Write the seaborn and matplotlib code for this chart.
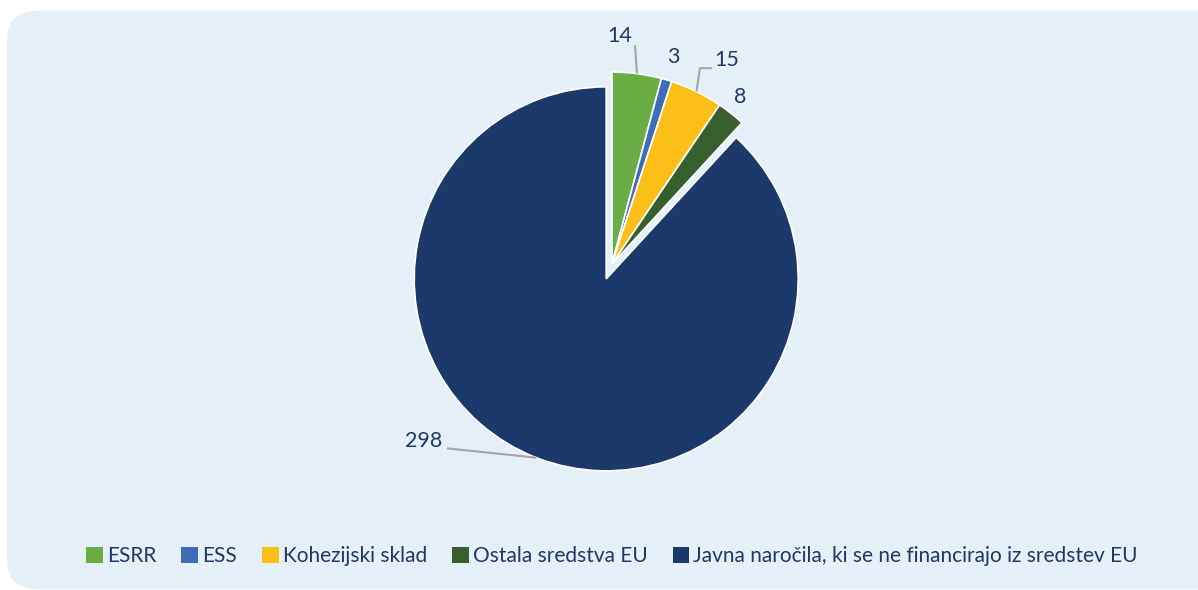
import matplotlib
matplotlib.use("Agg")
import matplotlib.pyplot as plt
from matplotlib.patches import FancyBboxPatch
import seaborn as sns
import numpy as np

# data
categories = ["ESRR", "ESS", "Kohezijski sklad", "Ostala sredstva EU",
              "Javna naročila, ki se ne financirajo iz sredstev EU"]
values = [14, 3, 15, 8, 298]
colors = ["#6AAD45", "#3D6DB9", "#FCBF17", "#375F2D", "#1C396C"]
explode = [0, 0, 0, 0, 0.083]

# label layout (data units, pie radius = 1)
label_pos = [(0.04, 1.19), (0.32, 1.08), (0.60, 1.06), (0.67, 0.87), (-0.98, -0.92)]
# leader line bends after leaving the wedge (None = no leader)
leader_pts = [[(0.12, 1.14)], None, [(0.458, 1.02), (0.52, 1.02)], None, [(-0.86, -0.96)]]

sns.set_theme(style="white")
plt.rcParams["font.family"] = ["Lato", "DejaVu Sans"]
text_color = "#1F3864"

W, H = 1198, 590
fig = plt.figure(figsize=(W / 100, H / 100), dpi=100)
fig.patch.set_facecolor("white")

# rounded light-blue background drawn in pixel units
bg_ax = fig.add_axes([0, 0, 1, 1], zorder=-1)
bg_ax.set_xlim(0, W)
bg_ax.set_ylim(0, H)
bg_ax.axis("off")
bg_ax.add_patch(FancyBboxPatch((7, 1), W + 30, H - 12,
                               boxstyle="round,pad=0,rounding_size=30",
                               facecolor="#E6F0F8", edgecolor="none"))

# pie axes: centre at (612, 264) px, radius 192 px
cx, cy, R = 612, H - 264, 192
ax = fig.add_axes([(cx - R) / W, (cy - R) / H, 2 * R / W, 2 * R / H])
wedges, _ = ax.pie(values, colors=colors, explode=explode, startangle=90,
                   counterclock=False,
                   wedgeprops=dict(edgecolor="white", linewidth=1.2))
ax.set_xlim(-1, 1)
ax.set_ylim(-1, 1)
ax.set_facecolor("none")
ax.axis("off")

for w, v, pos, pts, ex in zip(wedges, values, label_pos, leader_pts, explode):
    ang = np.deg2rad((w.theta1 + w.theta2) / 2)
    r = 1 + ex
    x, y = r * np.cos(ang), r * np.sin(ang)
    if pts is not None:
        xs = [x] + [p[0] for p in pts]
        ys = [y] + [p[1] for p in pts]
        ax.plot(xs, ys, color="#A6A6A6", lw=1.5, clip_on=False,
                solid_capstyle="butt")
    ax.text(pos[0], pos[1], str(v), ha="center", va="center",
            fontsize=15.5, color=text_color, clip_on=False)

leg = fig.legend(wedges, categories, loc="center", bbox_to_anchor=(612 / W, 1 - 556 / H),
                 ncol=5, frameon=False, fontsize=15, handlelength=0.8,
                 handleheight=0.8, handletextpad=0.2, columnspacing=1.2)
for t in leg.get_texts():
    t.set_color(text_color)
for h in leg.legend_handles:
    h.set_edgecolor("none")

fig.savefig("out.png", dpi=100)
